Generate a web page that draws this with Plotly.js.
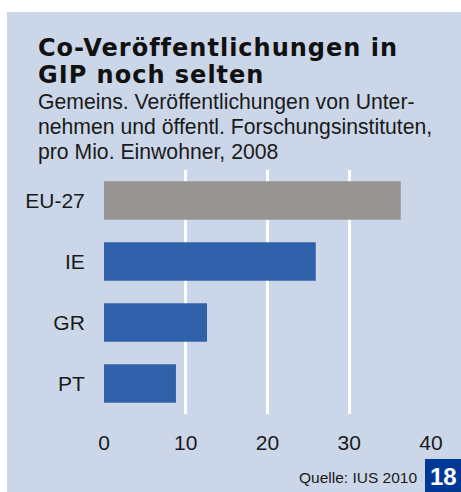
<!DOCTYPE html>
<html>
<head>
<meta charset="utf-8">
<script src="https://cdn.plot.ly/plotly-3.0.1.min.js"></script>
<style>
html,body{margin:0;padding:0;background:#ffffff;}
#chart{width:461px;height:492px;}
</style>
</head>
<body>
<div id="chart"></div>
<script>
// Data
const categories = ["EU-27", "IE", "GR", "PT"];
const values = [36.3, 25.9, 12.6, 8.8];
const xTicks = [0, 10, 20, 30, 40];
const titleLines = ["Co-Veröffentlichungen in", "GIP noch selten"];
const subtitleLines = ["Gemeins. Veröffentlichungen von Unter-", "nehmen und öffentl. Forschungsinstituten,", "pro Mio. Einwohner, 2008"];
const sourceText = "Quelle: IUS 2010";
const pageNumber = "18";

// Layout geometry (pixels)
const W = 461, H = 492;
const M = {l: 104, r: 30, t: 170, b: 78};
const PW = W - M.l - M.r, PH = H - M.t - M.b;
const px = x => (x - M.l) / PW;
const py = y => (H - M.b - y) / PH;

const panelColor = "#cbd6e8";
const barColors = categories.map(c => c === "EU-27" ? "#969594" : "#3060aa");
const textColor = "#1a1a1a";
const FONT = "Liberation Sans, Arial, sans-serif";

const trace = {
  type: "bar",
  orientation: "h",
  y: categories,
  x: values,
  marker: {color: barColors, line: {width: 0}},
  width: 0.63,
  hoverinfo: "x+y"
};

const titleTops = [33, 60];
const subTops = [89, 114, 139];

const annotations = [];
titleLines.forEach((t, i) => annotations.push({
  xref: "paper", yref: "paper", x: px(37), y: py(titleTops[i]), xanchor: "left", yanchor: "top",
  text: "<b><span style=\"letter-spacing:1px\">" + t + "</span></b>", showarrow: false, align: "left",
  borderpad: 0,
  font: {family: "DejaVu Sans, Arial Black, sans-serif", size: 24, color: "#111111"}
}));
subtitleLines.forEach((t, i) => annotations.push({
  xref: "paper", yref: "paper", x: px(37), y: py(subTops[i]), xanchor: "left", yanchor: "top",
  text: t, showarrow: false, align: "left", borderpad: 0,
  font: {family: FONT, size: 21.2, color: textColor}
}));
annotations.push({xref: "paper", yref: "paper", x: px(419), y: py(477), xanchor: "right", yanchor: "middle",
  text: sourceText, showarrow: false, align: "right",
  font: {family: FONT, size: 15.5, color: textColor}});
annotations.push({xref: "paper", yref: "paper", x: px(443), y: py(476), xanchor: "center", yanchor: "middle",
  text: "<b>" + pageNumber + "</b>", showarrow: false,
  font: {family: FONT, size: 24, color: "#ffffff"}});

const layout = {
  width: W, height: H,
  margin: M,
  paper_bgcolor: "#ffffff",
  plot_bgcolor: "rgba(0,0,0,0)",
  showlegend: false,
  font: {family: FONT, color: textColor, size: 21},
  xaxis: {
    range: [0, 40],
    tickvals: xTicks,
    ticktext: xTicks.map(String),
    showgrid: true, gridcolor: "#ffffff", gridwidth: 3,
    zeroline: false,
    showline: false,
    ticks: "outside", ticklen: 10, tickcolor: "rgba(0,0,0,0)",
    tickfont: {family: FONT, size: 21, color: textColor},
    fixedrange: true
  },
  yaxis: {
    type: "category",
    categoryorder: "array",
    categoryarray: categories,
    autorange: "reversed",
    showgrid: false, zeroline: false, showline: false,
    ticks: "outside", ticklen: 14, tickcolor: "rgba(0,0,0,0)",
    tickfont: {family: FONT, size: 21, color: textColor},
    fixedrange: true
  },
  shapes: [
    {type: "rect", xref: "paper", yref: "paper", layer: "below",
     x0: px(7), x1: px(W + 5), y0: py(H + 5), y1: py(12),
     fillcolor: panelColor, line: {width: 0}},
    {type: "rect", xref: "paper", yref: "paper", layer: "above",
     x0: px(425), x1: px(W + 5), y0: py(H + 5), y1: py(459),
     fillcolor: "#003896", line: {width: 0}}
  ],
  annotations: annotations
};

Plotly.newPlot("chart", [trace], layout, {displayModeBar: false, staticPlot: true});
</script>
</body>
</html>
